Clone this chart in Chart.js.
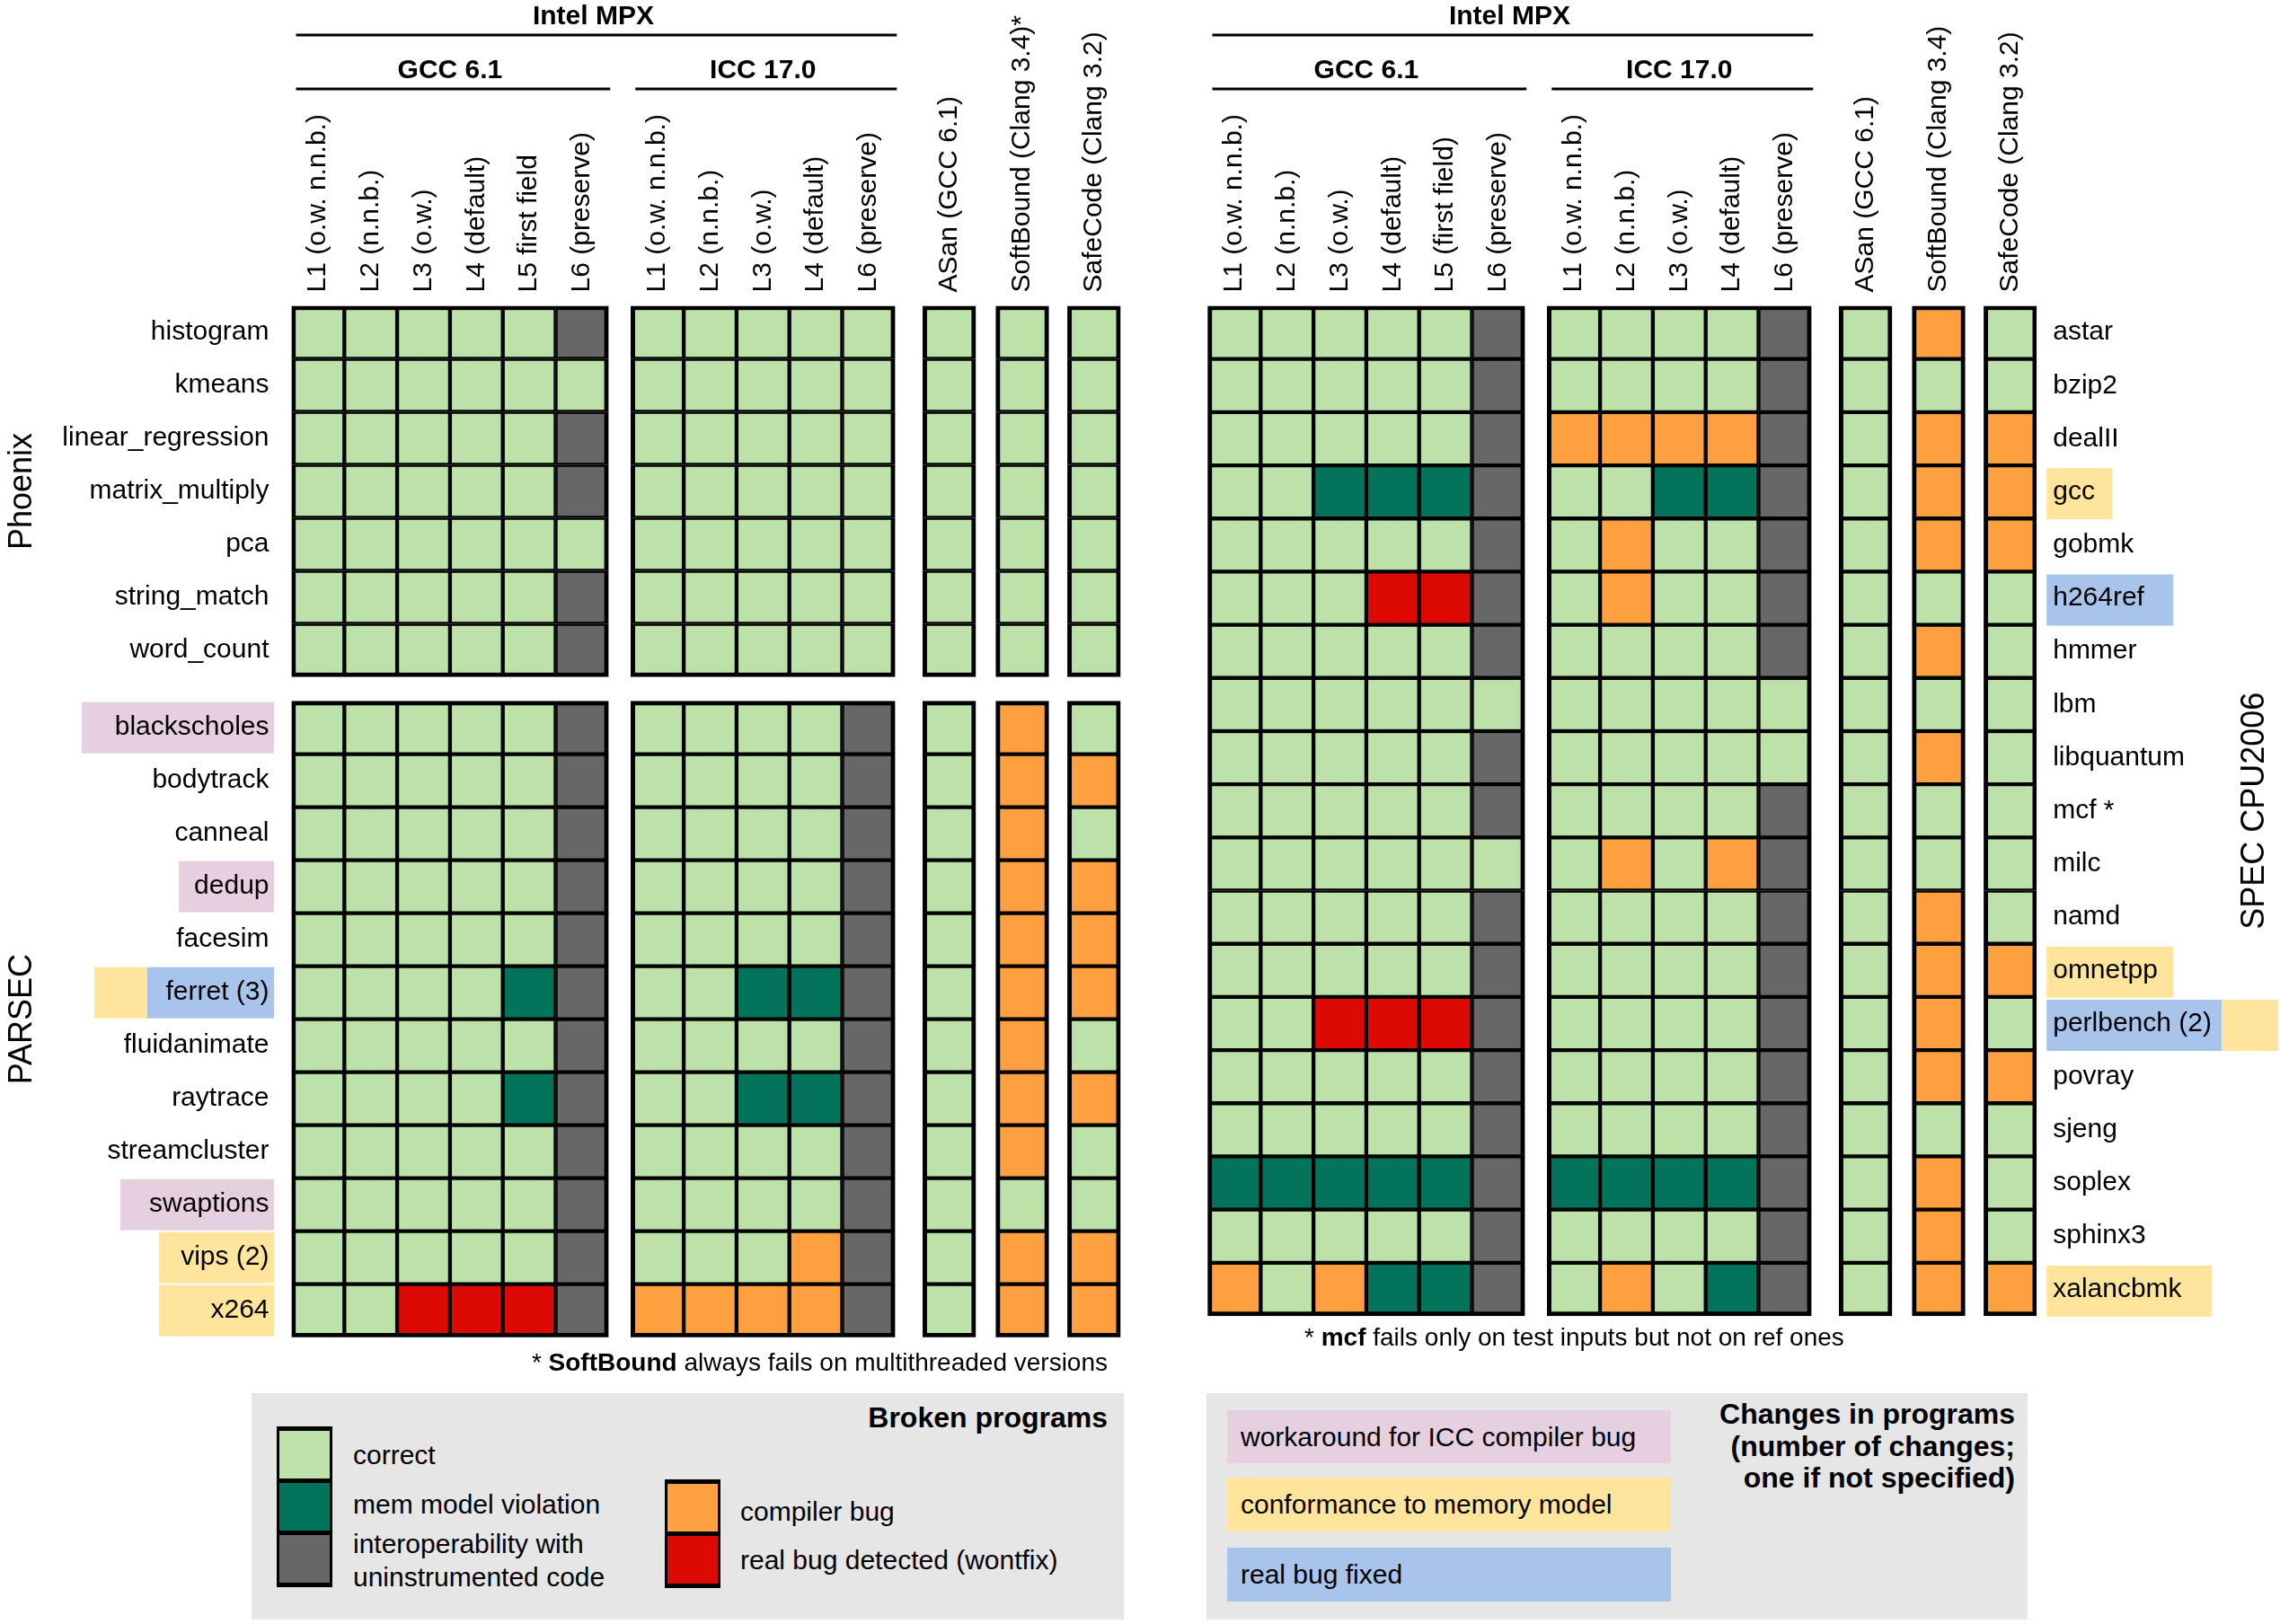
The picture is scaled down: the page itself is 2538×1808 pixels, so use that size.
<!DOCTYPE html>
<html>
<head>
<meta charset="utf-8">
<script src="https://cdn.jsdelivr.net/npm/chart.js@4.4.0/dist/chart.umd.min.js"></script>
<style>
  html, body { margin: 0; padding: 0; background: #fff; }
  body { width: 2538px; height: 1808px; position: relative; overflow: hidden;
         font-family: "Liberation Sans", Arial, sans-serif; color: #000; }
  #c { position: absolute; left: 0; top: 0; }
  .t { position: absolute; white-space: nowrap; font-size: 30px; line-height: 34px; }
  .b { font-weight: bold; font-size: 32px; line-height: 36px; }
  .panel { position: absolute; background: #e6e6e6; }
  .sw { position: absolute; background: #000; padding: 5px 3px; width: 56px; }
  .sw div { height: 53px; }
  .sw div + div { margin-top: 5px; }
  .box { position: absolute; left: 1366px; width: 479px; padding-left: 15px; font-size: 30px; white-space: nowrap; }
</style>
</head>
<body>
<canvas id="c" width="2538" height="1808"></canvas>

<div class="t" style="right:1305px;top:1501px;font-size:28px;line-height:32px">* <b>SoftBound</b> always fails on multithreaded versions</div>
<div class="t" style="left:1452px;top:1473px;font-size:28px;line-height:32px">* <b>mcf</b> fails only on test inputs but not on ref ones</div>

<div class="panel" style="left:280px;top:1551px;width:971px;height:252px"></div>
<div class="t b" style="right:1305px;top:1560px">Broken programs</div>
<div class="sw" style="left:308px;top:1588px"><div style="background:#bde2a9"></div><div style="background:#03735b"></div><div style="background:#676767"></div></div>
<div class="sw" style="left:740px;top:1647px"><div style="background:#fea03f"></div><div style="background:#dd0a03"></div></div>
<div class="t" style="left:393px;top:1603px">correct</div>
<div class="t" style="left:393px;top:1658px">mem model violation</div>
<div class="t" style="left:393px;top:1700px;line-height:37px">interoperability with<br>uninstrumented code</div>
<div class="t" style="left:824px;top:1666px">compiler bug</div>
<div class="t" style="left:824px;top:1720px">real bug detected (wontfix)</div>

<div class="panel" style="left:1343px;top:1551px;width:914px;height:252px"></div>
<div class="box" style="top:1570px;height:59px;line-height:59px;background:#e6d0df">workaround for ICC compiler bug</div>
<div class="box" style="top:1645px;height:60px;line-height:60px;background:#ffe59c">conformance to memory model</div>
<div class="box" style="top:1723px;height:60px;line-height:60px;background:#a9c4eb">real bug fixed</div>
<div class="t b" style="right:295px;top:1557px;line-height:35.5px;text-align:right">Changes in programs<br>(number of changes;<br>one if not specified)</div>

<script>
// ---- data ----
const leftColumns = ['L1 (o.w. n.n.b.)', 'L2 (n.n.b.)', 'L3 (o.w.)', 'L4 (default)', 'L5 first field', 'L6 (preserve)',
  'L1 (o.w. n.n.b.)', 'L2 (n.n.b.)', 'L3 (o.w.)', 'L4 (default)', 'L6 (preserve)',
  'ASan (GCC 6.1)', 'SoftBound (Clang 3.4)*', 'SafeCode (Clang 3.2)'];
const rightColumns = ['L1 (o.w. n.n.b.)', 'L2 (n.n.b.)', 'L3 (o.w.)', 'L4 (default)', 'L5 (first field)', 'L6 (preserve)',
  'L1 (o.w. n.n.b.)', 'L2 (n.n.b.)', 'L3 (o.w.)', 'L4 (default)', 'L6 (preserve)',
  'ASan (GCC 6.1)', 'SoftBound (Clang 3.4)', 'SafeCode (Clang 3.2)'];
const groupSizes = [6, 5, 1, 1, 1];
const compilerNames = ['GCC 6.1', 'ICC 17.0'];

// C correct, M mem model violation, I interoperability, B compiler bug, R real bug
const phoenixRows = ['histogram', 'kmeans', 'linear_regression', 'matrix_multiply', 'pca', 'string_match', 'word_count'];
const phoenixStatus = ['CCCCCICCCCCCCC', 'CCCCCCCCCCCCCC', 'CCCCCICCCCCCCC', 'CCCCCICCCCCCCC',
  'CCCCCCCCCCCCCC', 'CCCCCICCCCCCCC', 'CCCCCICCCCCCCC'];
const parsecRows = ['blackscholes', 'bodytrack', 'canneal', 'dedup', 'facesim', 'ferret (3)', 'fluidanimate',
  'raytrace', 'streamcluster', 'swaptions', 'vips (2)', 'x264'];
const parsecStatus = ['CCCCCICCCCICBC', 'CCCCCICCCCICBB', 'CCCCCICCCCICBC', 'CCCCCICCCCICBB',
  'CCCCCICCCCICBB', 'CCCCMICCMMICBB', 'CCCCCICCCCICBC', 'CCCCMICCMMICBB',
  'CCCCCICCCCICBC', 'CCCCCICCCCICCC', 'CCCCCICCCBICBB', 'CCRRRIBBBBICBB'];
const specRows = ['astar', 'bzip2', 'dealII', 'gcc', 'gobmk', 'h264ref', 'hmmer', 'lbm', 'libquantum', 'mcf *',
  'milc', 'namd', 'omnetpp', 'perlbench (2)', 'povray', 'sjeng', 'soplex', 'sphinx3', 'xalancbmk'];
const specStatus = ['CCCCCICCCCICBC', 'CCCCCICCCCICCC', 'CCCCCIBBBBICBB', 'CCMMMICCMMICBB',
  'CCCCCICBCCICBB', 'CCCRRICBCCICCC', 'CCCCCICCCCICBC', 'CCCCCCCCCCCCCC',
  'CCCCCICCCCCCBC', 'CCCCCICCCCICCC', 'CCCCCCCBCBICCC', 'CCCCCICCCCICBC',
  'CCCCCICCCCICBB', 'CCRRRICCCCICBC', 'CCCCCICCCCICBB', 'CCCCCICCCCICCC',
  'MMMMMIMMMMICBC', 'CCCCCICCCCICBC', 'BCBMMICBCMICBB'];

// program changes: icc = workaround for ICC bug, mem = memory model, fix = real bug fixed
const leftMarks = {blackscholes: ['icc'], dedup: ['icc'], swaptions: ['icc'], 'ferret (3)': ['fix', 'mem'],
  'vips (2)': ['mem'], x264: ['mem']};
const rightMarks = {gcc: ['mem'], h264ref: ['fix'], omnetpp: ['mem'], 'perlbench (2)': ['fix', 'mem'], xalancbmk: ['mem']};

// ---- styles / layout ----
const statusNames = {C: 'correct', M: 'mem model violation', I: 'interoperability with uninstrumented code',
  B: 'compiler bug', R: 'real bug detected (wontfix)'};
const statusColors = {C: '#bde2a9', M: '#03735b', I: '#676767', B: '#fea03f', R: '#dd0a03'};
const markColors = {icc: '#e6d0df', mem: '#ffe59c', fix: '#a9c4eb'};
const markWidths = {blackscholes: [214], dedup: [106], swaptions: [171], 'ferret (3)': [141, 59],
  'vips (2)': [128], x264: [128], gcc: [73], h264ref: [141], omnetpp: [141], 'perlbench (2)': [195, 63],
  xalancbmk: [184]};
const FONT = '"Liberation Sans", Arial, sans-serif';
const COL_PX = 58.8, LEFT_PX = 324.5, TOP_PX = 340.5, ROW_PX = 59;
const groupGaps = [0.425, 0.527, 0.383, 0.357];
const RIGHT_OFFSET = 17.347, SECTION_GAP = 0.46;
const INNER = 2.5, OUTER = 5;

Chart.defaults.font.family = FONT;
Chart.defaults.color = '#000';

function groupBounds(offset) {
  const out = [];
  let x = offset;
  groupSizes.forEach((n, g) => { out.push([x, x + n]); x += n + (groupGaps[g] || 0); });
  return out;
}
function columnCenters(offset) {
  const out = [];
  groupBounds(offset).forEach(([a, b]) => { for (let v = a; v < b - 0.01; v++) out.push(v + 0.5); });
  return out;
}
const colFirst = [], colLast = [];
groupSizes.forEach(n => { for (let i = 0; i < n; i++) { colFirst.push(i === 0); colLast.push(i === n - 1); } });

const panelWidth = groupSizes.reduce((a, b) => a + b, 0) + groupGaps.reduce((a, b) => a + b, 0);
const xMax = RIGHT_OFFSET + panelWidth;
const leftX = columnCenters(0), rightX = columnCenters(RIGHT_OFFSET);
const xTicks = leftX.concat(rightX), xLabels = leftColumns.concat(rightColumns);

const nP = phoenixRows.length;
const leftRows = phoenixRows.concat(parsecRows);
const leftStatus = phoenixStatus.concat(parsecStatus);
const leftY = leftRows.map((_, i) => i < nP ? i : i + SECTION_GAP);
const leftSection = i => i < nP ? [0, nP - 1] : [nP, leftRows.length - 1];
const rightY = specRows.map((_, i) => i);
const rightSection = () => [0, specRows.length - 1];

const yLMax = leftRows.length + SECTION_GAP;
const chartBottom = TOP_PX + yLMax * ROW_PX;
const yRMax = (chartBottom - TOP_PX) / ((1465 - TOP_PX) / specRows.length);
const chartRight = LEFT_PX + xMax * COL_PX;

function buildCells(status, ys, xs, sectionOf) {
  const cells = {C: [], M: [], I: [], B: [], R: []};
  status.forEach((s, r) => {
    const [s0, s1] = sectionOf(r);
    [...s].forEach((code, c) => {
      cells[code].push({x: xs[c], y: [ys[r], ys[r] + 1],
        edge: {t: r === s0, b: r === s1, l: colFirst[c], r: colLast[c]}});
    });
  });
  return cells;
}
const leftCells = buildCells(leftStatus, leftY, leftX, leftSection);
const rightCells = buildCells(specStatus, rightY, rightX, rightSection);

const cellBorder = ctx => {
  const e = ctx.raw && ctx.raw.edge;
  if (!e) return INNER;
  return {top: e.t ? OUTER : INNER, bottom: e.b ? OUTER : INNER, left: e.l ? OUTER : INNER, right: e.r ? OUTER : INNER};
};

const datasets = [];
[[leftCells, 'yL'], [rightCells, 'yR']].forEach(([cells, axis]) => {
  ['C', 'M', 'I', 'B', 'R'].forEach(code => datasets.push({
    label: statusNames[code],
    data: cells[code],
    yAxisID: axis,
    backgroundColor: statusColors[code],
    borderColor: '#000',
    borderWidth: cellBorder,
    borderSkipped: false,
    grouped: false,
    barPercentage: 1,
    categoryPercentage: 1
  }));
});

// labels, highlight boxes and group titles
const annotate = {
  id: 'annotate',
  beforeDraw(chart) {
    const {ctx, chartArea, scales} = chart;
    ctx.save();
    leftRows.forEach((name, i) => {
      const kinds = leftMarks[name];
      if (!kinds) return;
      const yc = scales.yL.getPixelForValue(leftY[i] + 0.5);
      let xr = chartArea.left - 19.5;
      kinds.forEach((k, j) => {
        const w = markWidths[name][j];
        ctx.fillStyle = markColors[k];
        ctx.fillRect(xr - w, yc - 28.5, w, 57);
        xr -= w;
      });
    });
    specRows.forEach((name, i) => {
      const kinds = rightMarks[name];
      if (!kinds) return;
      const yc = scales.yR.getPixelForValue(rightY[i] + 0.5) + 2;
      let xl = chartArea.right + 11;
      kinds.forEach((k, j) => {
        const w = markWidths[name][j];
        ctx.fillStyle = markColors[k];
        ctx.fillRect(xl, yc - 28.5, w, 57);
        xl += w;
      });
    });
    ctx.restore();
  },
  afterDraw(chart) {
    const {ctx, scales} = chart;
    const x = scales.x;
    ctx.save();
    ctx.fillStyle = '#000';
    ctx.strokeStyle = '#000';
    ctx.lineWidth = 3;
    ctx.textAlign = 'center';
    ctx.textBaseline = 'alphabetic';
    ctx.font = 'bold 30px ' + FONT;
    const line = (a, b, y) => { ctx.beginPath(); ctx.moveTo(a, y); ctx.lineTo(b, y); ctx.stroke(); };
    [0, RIGHT_OFFSET].forEach(off => {
      const gb = groupBounds(off).map(([a, b]) => [x.getPixelForValue(a), x.getPixelForValue(b)]);
      const mpx0 = gb[0][0], mpx1 = gb[1][1];
      ctx.fillText('Intel MPX', (mpx0 + mpx1) / 2, 27);
      line(mpx0 + 5, mpx1 + 2, 39);
      compilerNames.forEach((n, g) => {
        ctx.fillText(n, (gb[g][0] + gb[g][1]) / 2, 87);
        line(gb[g][0] + 5, gb[g][1] + 2, 99);
      });
    });
    ctx.font = '36px ' + FONT;
    const vtext = (t, bx, cy) => {
      ctx.save(); ctx.translate(bx, cy); ctx.rotate(-Math.PI / 2); ctx.fillText(t, 0, 0); ctx.restore();
    };
    vtext('Phoenix', 35, scales.yL.getPixelForValue(nP / 2));
    vtext('PARSEC', 35, scales.yL.getPixelForValue(nP + SECTION_GAP + parsecRows.length / 2));
    vtext('SPEC CPU2006', 2520, scales.yR.getPixelForValue(specRows.length / 2));
    ctx.restore();
  }
};

const axisCommon = {
  type: 'linear', offset: false,
  grid: {display: false, drawTicks: false}, border: {display: false}
};

new Chart(document.getElementById('c'), {
  type: 'bar',
  data: {datasets: datasets},
  plugins: [annotate],
  options: {
    responsive: false,
    animation: false,
    layout: {padding: {left: 0, right: 0, top: 0, bottom: 1808 - chartBottom}},
    plugins: {legend: {display: false}, tooltip: {enabled: false}},
    scales: {
      x: Object.assign({}, axisCommon, {
        position: 'top', min: 0, max: xMax,
        afterBuildTicks: s => { s.ticks = xTicks.map(v => ({value: v})); },
        afterFit: s => { s.height = TOP_PX; },
        ticks: {autoSkip: false, minRotation: 90, maxRotation: 90, padding: 15, labelOffset: 36,
          font: {size: 30}, color: '#000', callback: (v, i) => xLabels[i]}
      }),
      yL: Object.assign({}, axisCommon, {
        position: 'left', reverse: true, min: 0, max: yLMax,
        afterBuildTicks: s => { s.ticks = leftY.map(v => ({value: v + 0.5})); },
        afterFit: s => { s.width = LEFT_PX; },
        ticks: {autoSkip: false, padding: 25, font: {size: 30}, color: '#000', callback: (v, i) => leftRows[i]}
      }),
      yR: Object.assign({}, axisCommon, {
        position: 'right', reverse: true, min: 0, max: yRMax,
        afterBuildTicks: s => { s.ticks = rightY.map(v => ({value: v + 0.5})); },
        afterFit: s => { s.width = 2538 - chartRight; },
        ticks: {autoSkip: false, padding: 18, font: {size: 30}, color: '#000', callback: (v, i) => specRows[i]}
      })
    }
  }
});
</script>
</body>
</html>
